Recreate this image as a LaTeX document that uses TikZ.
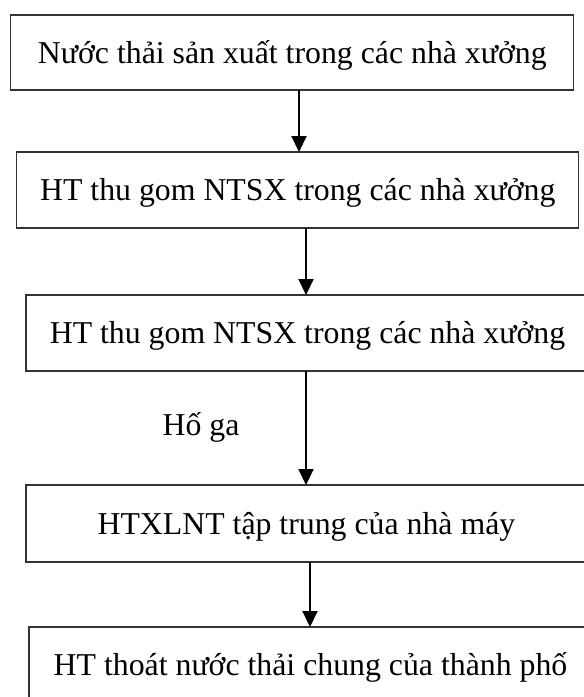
\documentclass[tikz,border=0pt]{standalone}
\usepackage{fontspec}
\setmainfont{Liberation Serif}
\usetikzlibrary{arrows.meta}

\tikzset{
  flowbox/.style={draw=black!80, line width=1.2pt, rectangle, inner sep=0pt, outer sep=0pt,
    minimum height=76pt, text height=21pt, text depth=0pt,
    font=\fontsize{31.8}{38}\selectfont},
  flowarrow/.style={line width=2pt, -{Triangle[width=15pt,length=16pt]}},
  note/.style={font=\fontsize{31.8}{38}\selectfont, inner sep=0pt, anchor=base}
}

\begin{document}
\begin{tikzpicture}[x=1pt, y=-1pt]
\useasboundingbox (0,0) rectangle (584,697);
\clip (0,0) rectangle (584,697);

% process steps
\node[flowbox, minimum width=563pt, minimum height=75pt] (b1) at (292.3,52.5) {Nước thải sản xuất trong các nhà xưởng};
\node[flowbox, minimum width=562pt] (b2) at (297.8,190) {HT thu gom NTSX trong các nhà xưởng};
\node[flowbox, minimum width=563pt] (b3) at (307.5,333) {HT thu gom NTSX trong các nhà xưởng};
\node[flowbox, minimum width=561pt, minimum height=77pt] (b4) at (306.4,523.5) {HTXLNT tập trung của nhà máy};
\node[flowbox, minimum width=563pt] (b5) at (310.5,665) {HT thoát nước thải chung của thành phố};

% arrow columns
\coordinate (a1) at (299,0);
\coordinate (a2) at (306,0);
\coordinate (a3) at (306,0);
\coordinate (a4) at (310,0);

\draw[flowarrow] (b1.south -| a1) -- (b2.north -| a1);
\draw[flowarrow] (b2.south -| a2) -- (b3.north -| a2);
\draw[flowarrow] (b3.south -| a3) -- (b4.north -| a3);
\draw[flowarrow] (b4.south -| a4) -- (b5.north -| a4);

% label beside the third arrow
\node[note] (hoga) at (201,435) {Hố ga};
\end{tikzpicture}
\end{document}
